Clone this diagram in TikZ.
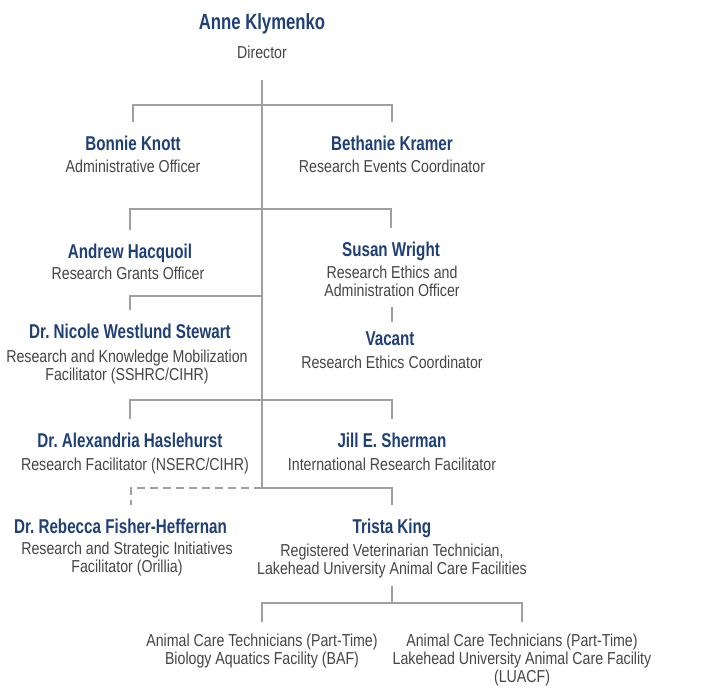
\documentclass[tikz,border=0pt]{standalone}
\usepackage{fontspec}
\newfontfamily\namefam[FakeStretch=0.76]{Liberation Sans}
\newfontfamily\rolefam[FakeStretch=0.82]{Liberation Sans}
\usetikzlibrary{positioning}
\definecolor{nameblue}{HTML}{1F3F77}
\definecolor{rolegray}{HTML}{454545}
\definecolor{linegray}{HTML}{A0A0A0}
\frenchspacing

\begin{document}
\begin{tikzpicture}[x=1pt,y=-1pt,
    name node/.style={font=\namefam\bfseries\fontsize{20}{22}\selectfont,text=nameblue,inner sep=0pt,
      text height=15pt,text depth=4pt,outer ysep=13pt,anchor=base},
    role node/.style={font=\rolefam\fontsize{17.3}{18}\selectfont,text=rolegray,inner sep=0pt,
      outer ysep=8pt,align=center,anchor=base},
    conn/.style={draw=linegray,line width=2pt}]
  \useasboundingbox (0,0) rectangle (719,698);
  % director
  \node[name node,font=\namefam\bfseries\fontsize{22}{24}\selectfont] (anne) at (262,30) {Anne Klymenko};
  \node[role node] (director) at (262,59) {Director};
  % junctions on the trunk
  \coordinate (j1) at (262,105);
  \coordinate (j2) at (262,209);
  \coordinate (j3) at (262,296);
  \coordinate (j4) at (262,400);
  \coordinate (j5) at (262,488);
  \coordinate (j6) at (392,603);
  % left column (multi-line roles sit on their last baseline)
  \node[name node] (bonnie) at (133,150) {Bonnie Knott};
  \node[role node] (bonnierole) at (133,172) {Administrative Officer};
  \node[name node] (andrew) at (130,258) {Andrew Hacquoil};
  \node[role node] (andrewrole) at (128,279) {Research Grants Officer};
  \node[name node] (nicole) at (130,338) {Dr. Nicole Westlund Stewart};
  \node[role node] (nicolerole) at (127,380.7) {Research and Knowledge Mobilization\\Facilitator (SSHRC/CIHR)};
  \node[name node] (alexandria) at (130,447) {Dr. Alexandria Haslehurst};
  \node[role node] (alexandriarole) at (135,470.7) {Research Facilitator (NSERC/CIHR)};
  \node[name node] (rebecca) at (120.5,533) {Dr. Rebecca Fisher-Heffernan};
  \node[role node] (rebeccarole) at (127,572.7) {Research and Strategic Initiatives\\Facilitator (Orillia)};
  % right column
  \node[name node] (bethanie) at (392,150) {Bethanie Kramer};
  \node[role node] (bethanierole) at (392,172) {Research Events Coordinator};
  \node[name node] (susan) at (391,256) {Susan Wright};
  \node[role node] (susanrole) at (392,296) {Research Ethics and\\Administration Officer};
  \node[name node] (vacant) at (390,345) {Vacant};
  \node[role node] (vacantrole) at (392,368.3) {Research Ethics Coordinator};
  \node[name node] (jill) at (392,447) {Jill E. Sherman};
  \node[role node] (jillrole) at (392,470.7) {International Research Facilitator};
  \node[name node] (trista) at (392,533) {Trista King};
  \node[role node] (tristarole) at (392,574.3) {Registered Veterinarian Technician,\\Lakehead University Animal Care Facilities};
  % animal care staff
  \node[role node,outer ysep=12pt] (actbaf) at (262,664.3) {Animal Care Technicians (Part-Time)\\Biology Aquatics Facility (BAF)};
  \node[role node,outer ysep=12pt] (actluacf) at (522,682.3) {Animal Care Technicians (Part-Time)\\Lakehead University Animal Care Facility\\(LUACF)};
  % connectors
  \draw[conn,shorten <=13pt] (director) -- (j5);
  \draw[conn] (bonnie) |- (j1) -| (bethanie);
  \draw[conn] (andrew) |- (j2) -| (susan);
  \draw[conn] (nicole) |- (j3);
  \draw[conn,shorten <=3pt,shorten >=-5pt] (susanrole.south) -- (susanrole.south |- vacant.north);
  \draw[conn] (alexandria) |- (j4) -| (jill);
  \draw[conn] (j5) -| (trista);
  \draw[conn,dash pattern=on 8pt off 5pt] (j5) -| ([xshift=10.5pt]rebecca.north);
  \draw[conn] (tristarole) -- (j6);
  \draw[conn] (actbaf) |- (j6) -| (actluacf);
\end{tikzpicture}
\end{document}
